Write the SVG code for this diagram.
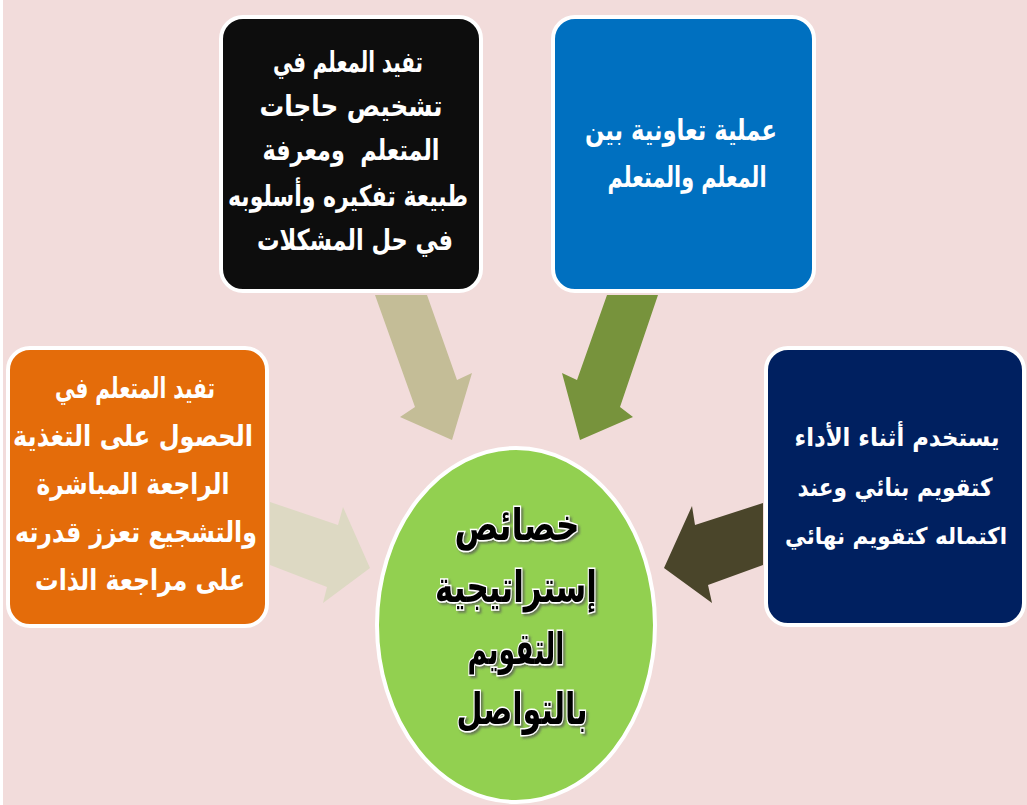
<svg xmlns="http://www.w3.org/2000/svg" width="1027" height="805" viewBox="0 0 1027 805">
<style>
.box{stroke:#fff;stroke-width:4}
.t{font-family:"DejaVu Sans","Noto Sans",sans-serif;font-weight:bold;fill:#fff;text-anchor:middle;direction:rtl;font-size:29px}
.n{font-size:25px}
.c{font-family:"DejaVu Sans","Noto Sans",sans-serif;font-weight:bold;fill:#000;text-anchor:middle;direction:rtl;font-size:44px;stroke:#fff;stroke-width:3;paint-order:stroke;filter:url(#sh)}
</style>
<defs>
<filter id="sh" x="-20%" y="-30%" width="140%" height="160%">
<feDropShadow dx="2" dy="2" stdDeviation="1" flood-color="#555" flood-opacity="0.7"/>
</filter>
</defs>
<rect x="0" y="0" width="1027" height="805" fill="#fff"/>
<rect x="3" y="0" width="1024" height="805" fill="#F2DCDB"/>
<g id="connectors">
<polygon id="arrow-left" points="270,502 338,525 343,507 370,568 323,603 327,587 270,565" fill="#DDD9C3"/>
<polygon id="arrow-topleft" points="375,295 427,295 457,380 472,373 452,440 400,417 415,407" fill="#C4BD97"/>
<polygon id="arrow-topright" points="607,295 658,295 620,407 633,417 580,440 562,373 577,380" fill="#77933C"/>
<polygon id="arrow-right" points="763,503 695,525 692,506 664,568 712,603 708,585 763,565" fill="#4A452A"/>
</g>
<g id="node-black">
<rect class="box" x="221" y="17" width="260" height="274" rx="22" fill="#0D0D0D"/>
<text class="t"><tspan x="348" y="72" textLength="150" lengthAdjust="spacingAndGlyphs">تفيد المعلم في</tspan><tspan x="351" y="116" textLength="183" lengthAdjust="spacingAndGlyphs">تشخيص حاجات</tspan><tspan x="351" y="160" textLength="177" lengthAdjust="spacingAndGlyphs" style="white-space:pre">المتعلم  ومعرفة</tspan><tspan x="348" y="206" textLength="240" lengthAdjust="spacingAndGlyphs">طبيعة تفكيره وأسلوبه</tspan><tspan x="355" y="250" textLength="196" lengthAdjust="spacingAndGlyphs">في حل المشكلات</tspan></text>
</g>
<g id="node-blue">
<rect class="box" x="553" y="17" width="261" height="274" rx="22" fill="#0070C0"/>
<text class="t"><tspan x="681" y="140" textLength="192" lengthAdjust="spacingAndGlyphs">عملية تعاونية بين</tspan><tspan x="687" y="187" textLength="159" lengthAdjust="spacingAndGlyphs">المعلم والمتعلم</tspan></text>
</g>
<g id="node-orange">
<rect class="box" x="8" y="348" width="259" height="278" rx="22" fill="#E46C0A"/>
<text class="t"><tspan x="135" y="398" textLength="160" lengthAdjust="spacingAndGlyphs">تفيد المتعلم في</tspan><tspan x="133" y="446" textLength="240" lengthAdjust="spacingAndGlyphs">الحصول على التغذية</tspan><tspan x="133" y="494" textLength="193" lengthAdjust="spacingAndGlyphs">الراجعة المباشرة</tspan><tspan x="136" y="542" textLength="242" lengthAdjust="spacingAndGlyphs">والتشجيع تعزز قدرته</tspan><tspan x="140" y="590" textLength="210" lengthAdjust="spacingAndGlyphs">على مراجعة الذات</tspan></text>
</g>
<g id="node-navy">
<rect class="box" x="766" y="348" width="258" height="277" rx="22" fill="#002060"/>
<text class="t n"><tspan x="897" y="446" textLength="205" lengthAdjust="spacingAndGlyphs">يستخدم أثناء الأداء</tspan><tspan x="895" y="496" textLength="195" lengthAdjust="spacingAndGlyphs">كتقويم بنائي وعند</tspan><tspan x="896" y="544" textLength="222" lengthAdjust="spacingAndGlyphs" style="font-size:23px">اكتماله كتقويم نهائي</tspan></text>
</g>
<g id="node-center">
<ellipse cx="516" cy="625" rx="139" ry="177" fill="#92D050" stroke="#fff" stroke-width="4"/>
<text class="c"><tspan x="517" y="540" textLength="125" lengthAdjust="spacingAndGlyphs">خصائص</tspan><tspan x="516" y="602" textLength="162" lengthAdjust="spacingAndGlyphs">إستراتيجية</tspan><tspan x="516" y="664" textLength="97" lengthAdjust="spacingAndGlyphs">التقويم</tspan><tspan x="522" y="724" textLength="131" lengthAdjust="spacingAndGlyphs">بالتواصل</tspan></text>
</g>
</svg>
